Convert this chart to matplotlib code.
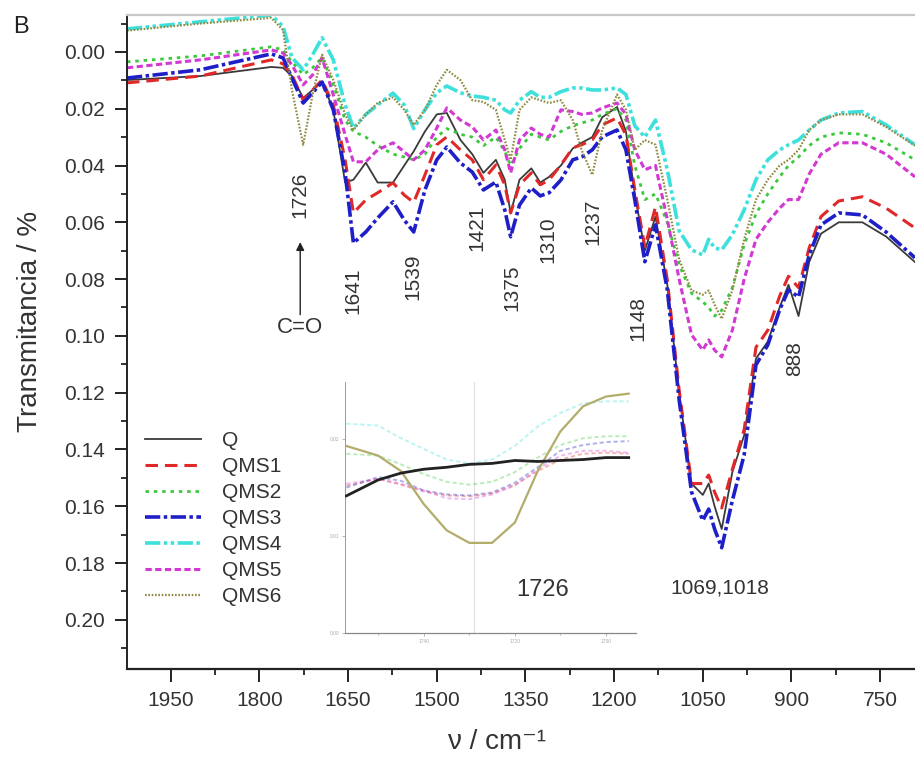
import matplotlib.pyplot as plt
from matplotlib.ticker import MultipleLocator, FormatStrFormatter

plt.rcParams['font.family'] = ['Liberation Sans', 'DejaVu Sans']
plt.rcParams['lines.scale_dashes'] = False

# wavenumber grid (cm-1) and the spectra
wavenumber = [2024, 1900, 1780, 1760, 1745, 1726, 1710, 1694, 1675, 1655, 1641, 1620,
              1600, 1574, 1555, 1539, 1520, 1500, 1483, 1460, 1440, 1421, 1400, 1385,
              1375, 1360, 1340, 1325, 1310, 1290, 1270, 1255, 1237, 1220, 1195, 1180,
              1165, 1148, 1130, 1110, 1090, 1069, 1050, 1040, 1030, 1018, 1000, 980,
              960, 940, 920, 905, 888, 870, 850, 820, 780, 740, 691]

q = [0.0099, 0.0085, 0.0053, 0.0056, 0.0085, 0.0162, 0.0134, 0.0106, 0.0204, 0.046,
     0.045, 0.039, 0.046, 0.046, 0.040, 0.035, 0.028, 0.022, 0.0215, 0.031, 0.036,
     0.0426, 0.038, 0.045, 0.0567, 0.045, 0.041, 0.046, 0.044, 0.040, 0.034, 0.032,
     0.030, 0.023, 0.0194, 0.028, 0.050, 0.070, 0.058, 0.082, 0.120, 0.152, 0.156,
     0.152, 0.160, 0.168, 0.148, 0.135, 0.108, 0.102, 0.090, 0.082, 0.093, 0.074,
     0.064, 0.060, 0.060, 0.065, 0.074]

qms1 = [0.0109, 0.0085, 0.0028, 0.0042, 0.0081, 0.0169, 0.0134, 0.0099, 0.0187, 0.038,
        0.0567, 0.0521, 0.0496, 0.0461, 0.0504, 0.053, 0.0433, 0.0327, 0.0299, 0.0345,
        0.038, 0.045, 0.0398, 0.0468, 0.0567, 0.0468, 0.0426, 0.0468, 0.0451, 0.0398,
        0.0338, 0.0327, 0.031, 0.0257, 0.0232, 0.0292, 0.0486, 0.0687, 0.0546, 0.0803,
        0.119, 0.152, 0.152, 0.149, 0.155, 0.1606, 0.147, 0.133, 0.104, 0.098, 0.086,
        0.079, 0.083, 0.069, 0.058, 0.0525, 0.051, 0.055, 0.062]

qms2 = [0.0035, 0.0014, -0.0018, -0.0007, 0.0035, 0.008, 0.0056, 0.002, 0.0116, 0.024,
        0.028, 0.030, 0.033, 0.036, 0.037, 0.038, 0.036, 0.030, 0.027, 0.029, 0.030,
        0.033, 0.030, 0.035, 0.040, 0.034, 0.029, 0.030, 0.031, 0.028, 0.026, 0.025,
        0.024, 0.022, 0.020, 0.024, 0.040, 0.052, 0.050, 0.060, 0.075, 0.085, 0.088,
        0.090, 0.093, 0.091, 0.083, 0.068, 0.057, 0.050, 0.044, 0.040, 0.037, 0.033,
        0.030, 0.0285, 0.029, 0.032, 0.038]

qms3 = [0.0092, 0.0063, 0.0007, 0.0021, 0.0092, 0.018, 0.0144, 0.0106, 0.0204, 0.0426,
        0.0673, 0.0634, 0.0585, 0.0528, 0.0592, 0.0634, 0.0486, 0.038, 0.0335, 0.0391,
        0.0423, 0.0486, 0.0458, 0.0556, 0.0651, 0.0539, 0.0479, 0.0507, 0.0496, 0.0451,
        0.038, 0.037, 0.0345, 0.0299, 0.0275, 0.0345, 0.0521, 0.0739, 0.0609, 0.0838,
        0.1225, 0.155, 0.165, 0.161, 0.168, 0.1746, 0.158, 0.1419, 0.1102, 0.1032,
        0.0908, 0.0838, 0.0863, 0.0715, 0.0609, 0.0567, 0.0574, 0.0634, 0.0725]

qms4 = [-0.0081, -0.0106, -0.013, -0.009, 0.002, 0.0063, 0.001, -0.005, 0.0028, 0.0187,
        0.0268, 0.022, 0.0187, 0.0145, 0.0187, 0.027, 0.0204, 0.0144, 0.012, 0.0144,
        0.0155, 0.016, 0.017, 0.0204, 0.0215, 0.017, 0.014, 0.016, 0.016, 0.014,
        0.0127, 0.0127, 0.0134, 0.0134, 0.0127, 0.015, 0.026, 0.030, 0.024, 0.0415,
        0.063, 0.0697, 0.0715, 0.066, 0.069, 0.0697, 0.0644, 0.0556, 0.045, 0.038,
        0.0345, 0.0327, 0.031, 0.0275, 0.024, 0.0215, 0.021, 0.0257, 0.0327]

qms5 = [0.0056, 0.0028, -0.0007, 0.0004, 0.0046, 0.0116, 0.0081, 0.0021, 0.0151, 0.0292,
        0.0387, 0.0387, 0.0345, 0.032, 0.0352, 0.038, 0.0345, 0.0268, 0.0197, 0.024,
        0.0264, 0.031, 0.0275, 0.0345, 0.0426, 0.031, 0.0268, 0.029, 0.030, 0.0204,
        0.021, 0.022, 0.0215, 0.0197, 0.018, 0.022, 0.0345, 0.0415, 0.040, 0.059,
        0.080, 0.0996, 0.105, 0.1014, 0.105, 0.1074, 0.098, 0.080, 0.066, 0.060,
        0.055, 0.052, 0.052, 0.043, 0.036, 0.032, 0.032, 0.036, 0.044]

qms6 = [-0.0075, -0.010, -0.012, -0.0077, 0.0134, 0.0327, 0.015, 0.001, 0.0099, 0.022,
        0.0275, 0.022, 0.018, 0.016, 0.0204, 0.0257, 0.0204, 0.0116, 0.0063, 0.0099,
        0.017, 0.0176, 0.0204, 0.031, 0.038, 0.0204, 0.016, 0.017, 0.018, 0.017,
        0.024, 0.0345, 0.0433, 0.0275, 0.015, 0.0204, 0.0345, 0.031, 0.0327, 0.052,
        0.073, 0.084, 0.0855, 0.084, 0.089, 0.094, 0.084, 0.066, 0.052, 0.045,
        0.040, 0.038, 0.0345, 0.0275, 0.024, 0.022, 0.022, 0.0264, 0.033]

# band labels: (text, wavenumber, transmittance)
bands = [("1726", 1731, 0.0503), ("1641", 1642, 0.0842), ("1539", 1540, 0.0792),
         ("1421", 1432, 0.0620), ("1375", 1373, 0.0830), ("1310", 1312, 0.0660),
         ("1237", 1236, 0.0600), ("1148", 1160, 0.0940), ("888", 894, 0.1080)]

# inset (zoom on the C=O band)
inset_wn = [1757, 1750, 1745, 1740, 1735, 1730, 1725, 1720, 1715, 1710, 1705, 1700, 1695]
inset_q = [0.01415, 0.0158, 0.0165, 0.0169, 0.0171, 0.0174, 0.0175, 0.0178, 0.0177,
           0.0178, 0.0179, 0.0181, 0.0181]
inset_qms1 = [0.0152, 0.0159, 0.0153, 0.0146, 0.0142, 0.0141, 0.0144, 0.0153, 0.0167,
              0.0179, 0.0185, 0.0186, 0.0185]
inset_qms2 = [0.0185, 0.0183, 0.0174, 0.0164, 0.0156, 0.0153, 0.0156, 0.0166, 0.0181,
              0.0194, 0.0201, 0.0203, 0.0203]
inset_qms3 = [0.0150, 0.0161, 0.0157, 0.0147, 0.0143, 0.0142, 0.0145, 0.0155, 0.0171,
              0.0188, 0.0194, 0.0197, 0.0198]
inset_qms4 = [0.0216, 0.0214, 0.0201, 0.0190, 0.0179, 0.0175, 0.0179, 0.0193, 0.0213,
              0.0227, 0.0237, 0.0239, 0.0239]
inset_qms5 = [0.0154, 0.0159, 0.0154, 0.0147, 0.0139, 0.0138, 0.0143, 0.0152, 0.0169,
              0.0183, 0.0188, 0.0188, 0.0186]
inset_qms6 = [0.0193, 0.0183, 0.0167, 0.0133, 0.0106, 0.0093, 0.0093, 0.0114, 0.0167,
              0.0208, 0.0234, 0.0244, 0.0247]
inset_marker = 1729

series = [
    ("Q", q, inset_q, "#3a3a3a", "-", 1.3),
    ("QMS1", qms1, inset_qms1, "#e02828", (0, (9, 5)), 2.2),
    ("QMS2", qms2, inset_qms2, "#3cc83c", (0, (2.5, 3.5)), 2.0),
    ("QMS3", qms3, inset_qms3, "#1f1fc8", (0, (11, 2.5, 2.5, 2.5)), 2.6),
    ("QMS4", qms4, inset_qms4, "#3ee0dc", (0, (11, 2.5, 2.5, 2.5, 2.5, 2.5)), 2.6),
    ("QMS5", qms5, inset_qms5, "#d238d2", (0, (4.5, 2.5)), 2.2),
    ("QMS6", qms6, inset_qms6, "#8f8a40", (0, (1.2, 1.2)), 1.6),
]

fig = plt.figure(figsize=(9.15, 7.68), dpi=100)
ax = fig.add_axes([127 / 915, 1 - 669 / 768, 788 / 915, 654 / 768])

for name, ys, _, color, ls, lw in series:
    ax.plot(wavenumber, ys, color=color, linestyle=ls, linewidth=lw, label=name)

ax.set_xlim(2024, 691)
ax.set_ylim(0.2173, -0.0130)

ax.xaxis.set_major_locator(MultipleLocator(150))
ax.xaxis.set_minor_locator(MultipleLocator(75))
ax.yaxis.set_major_locator(MultipleLocator(0.02))
ax.yaxis.set_minor_locator(MultipleLocator(0.01))
ax.yaxis.set_major_formatter(FormatStrFormatter("%.2f"))
ax.tick_params(which="major", direction="out", length=9, width=1.4, labelsize=15,
               colors="#222222", labelcolor="#333333", pad=7)
ax.tick_params(which="minor", direction="out", length=4.5, width=1.3, colors="#222222")
ax.tick_params(top=False, right=False, which="both")

ax.spines["right"].set_visible(False)
ax.spines["top"].set_color("#c8c8c8")
ax.spines["top"].set_linewidth(1.6)
ax.spines["left"].set_linewidth(1.4)
ax.spines["bottom"].set_linewidth(1.6)
ax.spines["left"].set_color("#222222")
ax.spines["bottom"].set_color("#222222")

ax.set_ylabel("Transmitancia / %", fontsize=20, color="#333333")
ax.yaxis.set_label_coords(-0.106, 0.531)
ax.set_xlabel("ν / cm⁻¹", fontsize=20, color="#333333")
ax.xaxis.set_label_coords(0.4695, -0.092)

for txt, x, y in bands:
    ax.text(x, y, txt, rotation=90, ha="center", va="center", fontsize=15, color="#333333")
ax.text(1021, 0.1887, "1069,1018", ha="center", va="center", fontsize=15, color="#333333")
ax.text(1731, 0.0972, "C=O", ha="center", va="center", fontsize=16, color="#333333")
ax.annotate("", xy=(1731, 0.0660), xytext=(1731, 0.0935),
            arrowprops=dict(arrowstyle="-|>", color="#222222", lw=1.0,
                            mutation_scale=12))

fig.text(21 / 915, 1 - 27 / 768, "B", ha="center", va="center", fontsize=17, color="#222222")

leg = ax.legend(loc="upper left", bbox_to_anchor=(145 / 915, 1 - 431 / 768),
                bbox_transform=fig.transFigure, frameon=False, fontsize=15,
                handlelength=2.7, handletextpad=1.0, labelspacing=0.34,
                borderpad=0, borderaxespad=0)
for t in leg.get_texts():
    t.set_color("#333333")

# inset
axin = fig.add_axes([345 / 915, 1 - 633 / 768, 291 / 915, 251 / 768])
axin.set_facecolor("white")
axin.axvline(inset_marker, color="#dddddd", lw=0.8)
for name, _, ys, color, ls, lw in series:
    if name == "Q":
        axin.plot(inset_wn, ys, color="#222222", lw=2.0, zorder=5)
    elif name == "QMS6":
        axin.plot(inset_wn, ys, color="#b3ad6c", lw=1.6, zorder=4)
    else:
        axin.plot(inset_wn, ys, color=color, linestyle=(0, (3, 2)), lw=1.4, alpha=0.35)
axin.set_xlim(1757.3, 1693.4)
axin.set_ylim(0.0, 0.0259)
axin.xaxis.set_major_locator(MultipleLocator(20))
axin.xaxis.set_minor_locator(MultipleLocator(10))
axin.yaxis.set_major_locator(MultipleLocator(0.01))
axin.yaxis.set_major_formatter(FormatStrFormatter("%.2f"))
axin.tick_params(which="both", direction="out", length=2.5, width=0.6, colors="#aaaaaa",
                 labelsize=3.5, labelcolor="#aaaaaa", pad=1.5)
axin.tick_params(which="minor", length=1.5)
axin.spines["top"].set_visible(False)
axin.spines["right"].set_visible(False)
axin.spines["left"].set_color("#999999")
axin.spines["bottom"].set_color("#888888")
axin.spines["left"].set_linewidth(0.7)
axin.spines["bottom"].set_linewidth(0.9)
axin.text(1714, 0.0044, "1726", ha="center", va="center", fontsize=17, color="#333333")

fig.savefig("out.png", dpi=100)
